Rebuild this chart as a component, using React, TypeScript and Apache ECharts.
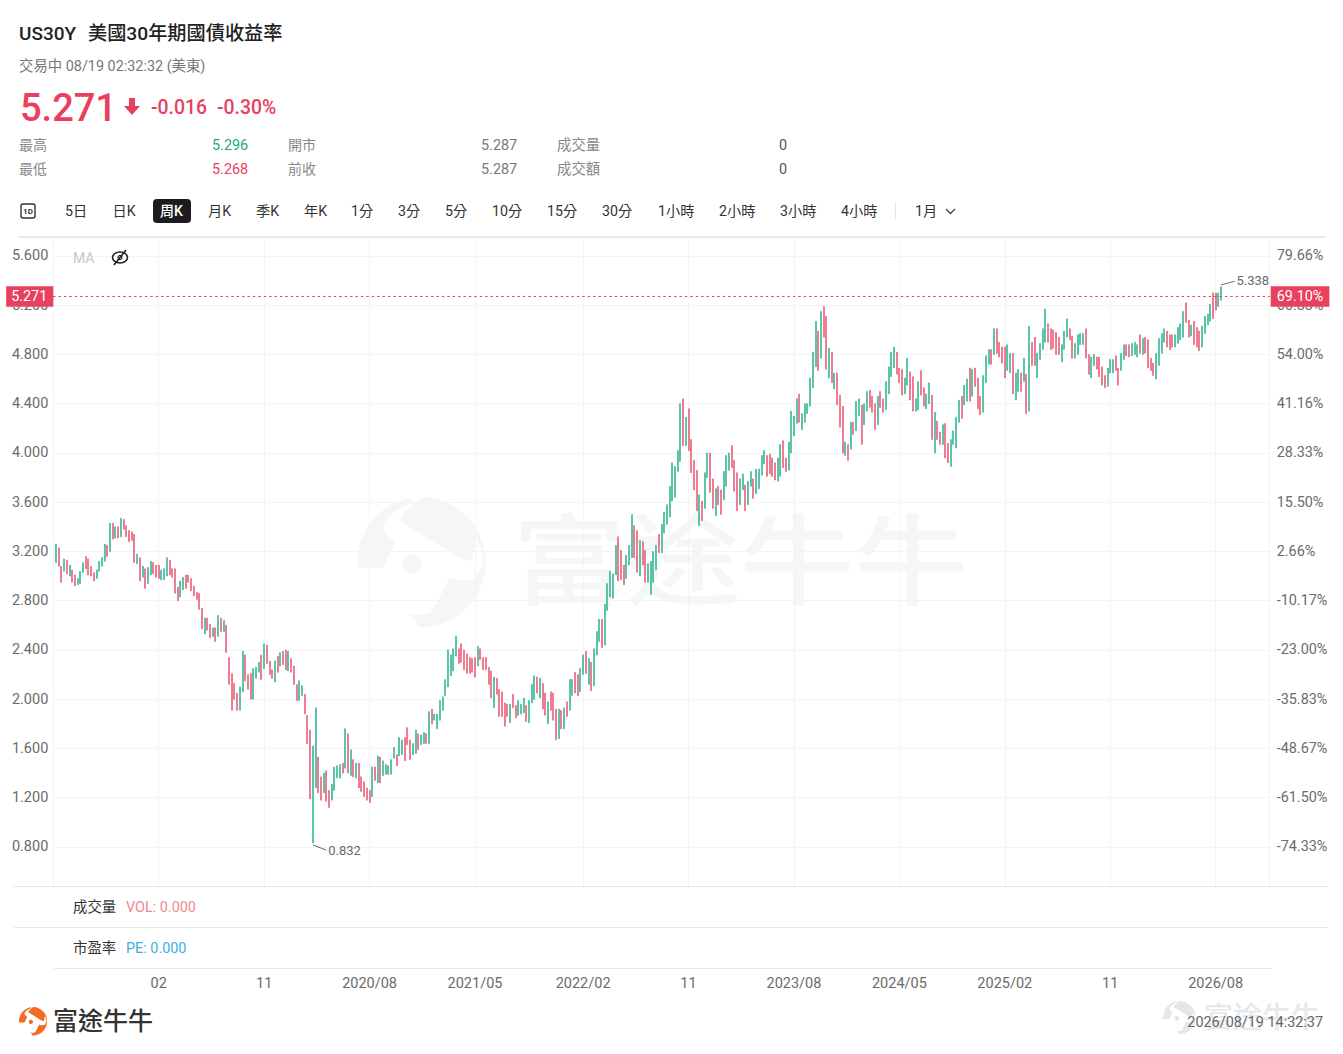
import { useEffect, useRef } from 'react';
import * as echarts from 'echarts';

const FONT = 'Roboto, "Noto Sans CJK TC", sans-serif';
const UP = '#27b28c';
const DOWN = '#e8526f';
const RED = '#e8405f';
const GRID_LINE = '#f3f4f6';
const LABEL = '#6b6b6b';

// weekly bars, 2018-05-14 to 2026-08-17
const highs = [
  3.26, 3.23, 3.08, 3.14, 3.13, 3.09, 3.05, 3.01, 2.98, 3.04,
  3.11, 3.16, 3.14, 3.08, 3.03, 3.05, 3.12, 3.15, 3.26, 3.25,
  3.43, 3.43, 3.40, 3.40, 3.47, 3.46, 3.41, 3.37, 3.36, 3.34,
  3.18, 3.15, 3.08, 3.06, 3.07, 3.12, 3.11, 3.09, 3.09, 3.05,
  3.06, 3.15, 3.13, 3.06, 3.06, 2.91, 2.96, 2.99, 3.01, 3.01,
  2.98, 2.92, 2.87, 2.86, 2.74, 2.66, 2.66, 2.61, 2.58, 2.58,
  2.68, 2.66, 2.64, 2.60, 2.34, 2.21, 2.13, 2.05, 2.10, 2.39,
  2.36, 2.20, 2.21, 2.25, 2.26, 2.30, 2.36, 2.45, 2.44, 2.31,
  2.24, 2.31, 2.35, 2.38, 2.39, 2.40, 2.39, 2.33, 2.27, 2.12,
  2.15, 2.11, 2.04, 1.87, 1.75, 1.62, 1.93, 1.53, 1.37, 1.40,
  1.42, 1.26, 1.31, 1.45, 1.46, 1.47, 1.48, 1.76, 1.72, 1.59,
  1.51, 1.48, 1.48, 1.37, 1.33, 1.28, 1.26, 1.45, 1.45, 1.54,
  1.53, 1.50, 1.47, 1.46, 1.51, 1.61, 1.55, 1.69, 1.67, 1.69,
  1.77, 1.67, 1.64, 1.75, 1.72, 1.71, 1.73, 1.72, 1.90, 1.92,
  1.88, 1.88, 1.99, 2.02, 2.16, 2.40, 2.36, 2.41, 2.51, 2.41,
  2.45, 2.40, 2.37, 2.34, 2.33, 2.34, 2.43, 2.41, 2.34, 2.34,
  2.26, 2.23, 2.18, 2.17, 2.08, 2.06, 1.97, 1.96, 1.96, 2.04,
  1.95, 1.99, 1.96, 2.01, 1.95, 1.99, 2.12, 2.19, 2.18, 2.17,
  2.13, 2.05, 1.98, 2.06, 2.05, 1.92, 1.92, 1.91, 1.93, 1.98,
  2.16, 2.16, 2.22, 2.20, 2.25, 2.36, 2.39, 2.33, 2.30, 2.41,
  2.55, 2.65, 2.65, 2.77, 2.94, 3.04, 3.02, 3.25, 3.32, 3.21,
  3.09, 3.17, 3.25, 3.50, 3.41, 3.37, 3.29, 3.28, 3.21, 3.10,
  3.12, 3.20, 3.25, 3.34, 3.42, 3.52, 3.58, 3.73, 3.92, 3.89,
  4.02, 4.40, 4.44, 4.29, 4.36, 4.11, 3.94, 3.86, 3.66, 3.61,
  3.84, 4.00, 4.00, 3.79, 3.71, 3.73, 3.70, 3.85, 3.98, 4.00,
  4.06, 3.94, 3.84, 3.79, 3.83, 3.74, 3.77, 3.85, 3.79, 3.87,
  3.87, 3.98, 4.02, 3.98, 3.99, 3.96, 3.92, 3.96, 4.07, 4.10,
  3.96, 4.09, 4.34, 4.30, 4.44, 4.48, 4.32, 4.40, 4.40, 4.61,
  4.82, 5.07, 4.99, 5.15, 5.19, 5.11, 4.85, 4.82, 4.65, 4.65,
  4.47, 4.38, 4.09, 4.07, 4.25, 4.25, 4.42, 4.44, 4.39, 4.40,
  4.50, 4.51, 4.46, 4.40, 4.46, 4.50, 4.44, 4.58, 4.70, 4.82,
  4.86, 4.82, 4.69, 4.68, 4.61, 4.77, 4.66, 4.62, 4.44, 4.58,
  4.67, 4.53, 4.48, 4.57, 4.47, 4.33, 4.26, 4.17, 4.23, 4.24,
  4.08, 4.11, 4.18, 4.29, 4.43, 4.46, 4.55, 4.60, 4.69, 4.68,
  4.69, 4.61, 4.46, 4.63, 4.79, 4.84, 4.84, 5.01, 5.01, 4.90,
  4.86, 4.86, 4.88, 4.81, 4.81, 4.65, 4.68, 4.65, 4.77, 4.64,
  5.03, 4.90, 4.94, 4.81, 4.89, 5.01, 5.17, 5.05, 5.01, 5.00,
  4.98, 4.94, 4.88, 4.99, 5.09, 5.01, 4.95, 4.89, 4.96, 4.97,
  4.97, 5.01, 4.80, 4.78, 4.80, 4.78, 4.78, 4.70, 4.63, 4.69,
  4.76, 4.76, 4.79, 4.69, 4.81, 4.88, 4.88, 4.88, 4.89, 4.90,
  4.88, 4.96, 4.93, 4.94, 4.92, 4.77, 4.73, 4.81, 4.93, 4.97,
  5.01, 4.99, 4.96, 4.96, 4.96, 5.02, 5.05, 5.15, 5.22, 5.08,
  5.04, 5.07, 5.02, 4.99, 5.03, 5.11, 5.13, 5.21, 5.30, 5.30,
  5.30, 5.35,
];

const lows = [
  3.11, 3.08, 2.95, 3.04, 3.02, 3.00, 2.95, 2.92, 2.93, 2.94,
  3.03, 3.06, 3.01, 3.00, 2.96, 2.98, 3.04, 3.08, 3.12, 3.16,
  3.20, 3.30, 3.31, 3.31, 3.32, 3.38, 3.32, 3.28, 3.29, 3.11,
  3.10, 2.96, 2.99, 2.90, 2.94, 3.01, 3.02, 2.99, 2.98, 2.97,
  2.97, 3.00, 3.01, 2.99, 2.86, 2.80, 2.83, 2.89, 2.90, 2.95,
  2.88, 2.84, 2.81, 2.73, 2.57, 2.53, 2.56, 2.50, 2.51, 2.47,
  2.51, 2.55, 2.55, 2.38, 2.12, 1.91, 2.00, 1.91, 1.91, 2.06,
  2.15, 2.08, 2.00, 2.00, 2.17, 2.22, 2.16, 2.25, 2.29, 2.20,
  2.17, 2.14, 2.22, 2.27, 2.28, 2.24, 2.23, 2.22, 2.12, 1.99,
  1.99, 2.03, 1.88, 1.64, 1.19, 0.832, 1.28, 1.24, 1.18, 1.24,
  1.17, 1.12, 1.18, 1.26, 1.36, 1.36, 1.40, 1.44, 1.40, 1.38,
  1.37, 1.36, 1.28, 1.25, 1.21, 1.18, 1.16, 1.21, 1.34, 1.32,
  1.32, 1.38, 1.39, 1.39, 1.39, 1.52, 1.46, 1.54, 1.55, 1.50,
  1.63, 1.51, 1.55, 1.56, 1.59, 1.63, 1.64, 1.64, 1.64, 1.80,
  1.83, 1.76, 1.83, 1.91, 2.03, 2.10, 2.19, 2.23, 2.35, 2.29,
  2.30, 2.24, 2.21, 2.21, 2.22, 2.18, 2.27, 2.32, 2.24, 2.24,
  2.12, 2.01, 1.93, 2.04, 1.86, 1.86, 1.78, 1.86, 1.81, 1.93,
  1.85, 1.87, 1.88, 1.89, 1.82, 1.81, 1.97, 2.00, 2.05, 2.01,
  1.92, 1.87, 1.80, 1.91, 1.83, 1.67, 1.68, 1.76, 1.76, 1.86,
  1.91, 2.03, 2.05, 2.03, 2.06, 2.20, 2.21, 2.12, 2.07, 2.11,
  2.36, 2.47, 2.42, 2.44, 2.72, 2.83, 2.82, 3.01, 2.96, 2.97,
  2.93, 2.98, 3.09, 3.15, 3.15, 3.03, 3.00, 3.09, 2.95, 2.95,
  2.85, 2.95, 3.05, 3.19, 3.19, 3.35, 3.42, 3.48, 3.61, 3.64,
  3.85, 3.93, 4.06, 4.06, 4.02, 3.84, 3.70, 3.53, 3.41, 3.45,
  3.55, 3.80, 3.68, 3.55, 3.49, 3.58, 3.50, 3.62, 3.73, 3.86,
  3.88, 3.69, 3.53, 3.58, 3.70, 3.53, 3.58, 3.73, 3.63, 3.67,
  3.71, 3.82, 3.91, 3.81, 3.83, 3.81, 3.78, 3.77, 3.81, 3.88,
  3.85, 3.86, 4.00, 4.14, 4.24, 4.25, 4.19, 4.25, 4.32, 4.38,
  4.53, 4.70, 4.67, 4.77, 4.94, 4.68, 4.61, 4.57, 4.52, 4.39,
  4.21, 4.00, 3.98, 3.94, 4.03, 4.15, 4.18, 4.30, 4.07, 4.23,
  4.34, 4.37, 4.33, 4.19, 4.23, 4.37, 4.33, 4.35, 4.48, 4.62,
  4.69, 4.64, 4.57, 4.47, 4.48, 4.55, 4.43, 4.34, 4.34, 4.35,
  4.47, 4.38, 4.36, 4.40, 4.11, 4.00, 4.11, 4.07, 4.07, 3.96,
  3.92, 3.89, 4.07, 4.04, 4.25, 4.28, 4.39, 4.42, 4.42, 4.46,
  4.54, 4.36, 4.31, 4.33, 4.57, 4.72, 4.72, 4.80, 4.81, 4.78,
  4.73, 4.61, 4.67, 4.65, 4.48, 4.43, 4.50, 4.50, 4.58, 4.32,
  4.34, 4.71, 4.71, 4.61, 4.76, 4.84, 4.90, 4.90, 4.84, 4.85,
  4.80, 4.80, 4.74, 4.84, 4.94, 4.92, 4.77, 4.77, 4.80, 4.88,
  4.88, 4.77, 4.64, 4.61, 4.71, 4.68, 4.62, 4.55, 4.53, 4.54,
  4.65, 4.65, 4.67, 4.55, 4.67, 4.76, 4.79, 4.78, 4.79, 4.80,
  4.78, 4.81, 4.80, 4.81, 4.69, 4.67, 4.63, 4.60, 4.71, 4.81,
  4.90, 4.86, 4.84, 4.86, 4.86, 4.89, 4.92, 4.94, 5.06, 4.94,
  4.95, 4.88, 4.86, 4.83, 4.86, 4.97, 5.04, 5.07, 5.09, 5.16,
  5.19, 5.24,
];

// G = closed up, R = closed down
const directions = (
  'GRRGRGRRGG' + 'GRRRRGGGGR' + 'GRGRGRRRRR' + 'GRGRGGRRRG' + 'GGRRRRGGRR' +
  'RRRRRGRRGR' + 'GRGRRRRRGG' + 'RRRGGGRGRR' + 'RGRGRRGRRR' + 'GGRRRGGRRG' +
  'RRGGGGRGRG' + 'RGRRRRRGRG' + 'RGGGGGRGGR' + 'RRGGRGGRGR' + 'GGGGGGGGGR' +
  'RRRRRRGRRR' + 'RRGRRRRRGR' + 'RGGGRGGGRG' + 'RRGRRRGRGR' + 'GGRRGGRGRG' +
  'GGRGGGGGRR' + 'RGGGRRGRRG' + 'GGGRGGGGGG' + 'GGRGRRRRGR' + 'GGRRGRRGGG' +
  'RRRGGRGGRG' + 'GGGRRRRGGR' + 'RGGGGRGGGG' + 'GGRGRRGRGR' + 'RRGRGRGGRG' +
  'GRRRGRRGGG' + 'GRRRGGRRGG' + 'RRGGRGRRGR' + 'RGGGGRGGRG' + 'RRRGGGRGRR' +
  'RRGGRGGRGR' + 'GRRGGGGRRR' + 'RRGGGRRGGG' + 'GRRGGRRRRG' + 'GGRRGGRRGG' +
  'GRGRRRRGGG' + 'GRRRGGGGRR' + 'GRRRGGGGRR' + 'GG'
).split('');

const yTicks = [5.6, 5.2, 4.8, 4.4, 4.0, 3.6, 3.2, 2.8, 2.4, 2.0, 1.6, 1.2, 0.8];
const pctLabels = [
  '79.66%', '66.83%', '54.00%', '41.16%', '28.33%', '15.50%', '2.66%',
  '-10.17%', '-23.00%', '-35.83%', '-48.67%', '-61.50%', '-74.33%',
];
const tickDates = [
  '2019-02-04', '2019-11-04', '2020-08-03', '2021-05-03', '2022-02-07', '2022-11-07',
  '2023-08-07', '2024-05-06', '2025-02-03', '2025-11-03', '2026-08-03',
];
const tickLabels = ['02', '11', '2020/08', '2021/05', '2022/02', '11', '2023/08', '2024/05', '2025/02', '11', '2026/08'];

const lastPrice = 5.271;
const lastPct = '69.10%';
const lowLabel = '0.832';
const highLabel = '5.338';

const tabs: [string, number][] = [
  ['5日', 65], ['日K', 112.5], ['月K', 208], ['季K', 256], ['年K', 304], ['1分', 351], ['3分', 398], ['5分', 445],
  ['10分', 492], ['15分', 547], ['30分', 602], ['1小時', 658], ['2小時', 719], ['3小時', 780], ['4小時', 841], ['1月', 915],
];

// one blank week in front, 18 blank weeks after the last bar
const LEAD = 1;
const TRAIL = 18;

const categories = Array.from({ length: LEAD + highs.length + TRAIL }, (_, i) =>
  new Date(Date.UTC(2018, 4, 7 + i * 7)).toISOString().slice(0, 10),
);

const candles: any[] = [
  ...Array(LEAD).fill('-'),
  ...highs.map((h, i) => (directions[i] === 'G' ? [lows[i], h, lows[i], h] : [h, lows[i], lows[i], h])),
];

const lowIndex = LEAD + lows.indexOf(Math.min(...lows));
const lastIndex = LEAD + highs.length - 1;

const logoPath =
  'M358 568 A65 65 0 0 1 410 498 L414 502 Q392 510 385 522 Q381 530 388 536 L395 543 L383 568 Z ' +
  'M423 497 A65 65 0 0 1 418 627 L416 620 L408 613 Q414 616 420 615 Q429 615 433 610 L450 577 Q455 581 460 580 Q470 581 475 578 Q482 570 483 560 Q482 548 476 538 L473 555 Q471 561 467 561 L458 557 L402 522 Q399 518 403 514 L416 502 Z ' +
  'M412 555 A9.5 9.5 0 1 1 411.9 555 Z';
echarts.graphic.registerShape('futuLogo', echarts.graphic.extendPath(logoPath as any, {}));

const text = (value: string, x: number, y: number, size: number, fill: string, extra: any = {}) => ({
  type: 'text',
  x,
  y,
  scaleY: extra.scaleY ?? 1,
  silent: true,
  z: extra.z ?? 10,
  style: {
    text: value,
    fontFamily: FONT,
    fontSize: size,
    fontWeight: extra.fontWeight ?? 400,
    fill,
    textVerticalAlign: 'middle',
    textAlign: extra.align ?? 'left',
  },
});

const hline = (x1: number, x2: number, y: number, stroke: string, lineWidth = 1) => ({
  type: 'line',
  silent: true,
  z: 10,
  shape: { x1, y1: y, x2, y2: y },
  style: { stroke, lineWidth },
});

const graphics: any[] = [
  // watermarks
  { type: 'futuLogo', x: 0, y: 0, z: -1, silent: true, style: { fill: '#f5f6f8' } },
  text('富途牛牛', 512, 563, 114, '#f5f6f8', { z: -1, fontWeight: 500, scaleY: 0.87 }),
  { type: 'futuLogo', x: 1163 - 358 * 0.255, y: 1001 - 497 * 0.255, scaleX: 0.255, scaleY: 0.255, silent: true, z: 1, style: { fill: '#e3e7ea' } },
  text('富途牛牛', 1204, 1018, 29, '#e6e9ec', { z: 1, fontWeight: 500 }),

  // header
  text('US30Y', 19, 33, 19, '#222222', { fontWeight: 500 }),
  text('美國30年期國債收益率', 88, 33, 19.2, '#222222', { fontWeight: 500 }),
  text('交易中 08/19 02:32:32 (美東)', 19, 66, 14.4, '#777777'),
  text('5.271', 20, 108, 38, RED, { fontWeight: 500 }),
  { type: 'polygon', silent: true, z: 10, shape: { points: [[129, 98], [135, 98], [135, 106], [140, 106], [132, 115], [124, 106], [129, 106]] }, style: { fill: RED } },
  text('-0.016', 151, 107, 19.4, RED, { fontWeight: 500 }),
  text('-0.30%', 217, 107, 19.4, RED, { fontWeight: 500 }),
  text('最高', 19, 145, 14, '#888888'),
  text('5.296', 212, 145, 14.4, '#1fa97b'),
  text('開市', 288, 145, 14, '#888888'),
  text('5.287', 481, 145, 14.4, '#777777'),
  text('成交量', 557, 145, 14.4, '#888888'),
  text('0', 779, 145, 14.4, '#555555'),
  text('最低', 19, 169, 14, '#888888'),
  text('5.268', 212, 169, 14.4, RED),
  text('前收', 288, 169, 14, '#888888'),
  text('5.287', 481, 169, 14.4, '#777777'),
  text('成交額', 557, 169, 14.4, '#888888'),
  text('0', 779, 169, 14.4, '#555555'),

  // toolbar
  { type: 'rect', silent: true, z: 10, shape: { x: 21, y: 204, width: 14, height: 14, r: 2 }, style: { fill: '#fff', stroke: '#333', lineWidth: 1.4 } },
  text('1D', 28, 211.5, 8, '#333333', { align: 'center', fontWeight: 700 }),
  { type: 'rect', silent: true, z: 10, shape: { x: 153, y: 199, width: 38, height: 24, r: 4 }, style: { fill: '#1c1c1e' } },
  text('周K', 160, 211, 14, '#ffffff', { fontWeight: 500 }),
  ...tabs.map(([name, x]) => text(name, x, 211, 14.2, '#333333')),
  { type: 'line', silent: true, z: 10, shape: { x1: 895.5, y1: 202, x2: 895.5, y2: 220 }, style: { stroke: '#e4e5e7', lineWidth: 1 } },
  { type: 'polyline', silent: true, z: 10, shape: { points: [[946, 209], [950.5, 213.5], [955, 209]] }, style: { stroke: '#444', lineWidth: 1.3, fill: 'none' } },

  // chart frame and lower panes
  hline(19, 1325, 237, '#e9eaec', 2),
  hline(14, 1328, 886.5, '#e6e7e9'),
  hline(14, 1328, 927.5, '#e6e7e9'),
  hline(54, 1271, 968.5, '#e6e7e9'),

  // MA legend
  text('MA', 73, 258, 14, '#c4c6c8'),
  { type: 'ellipse', silent: true, z: 10, shape: { cx: 120, cy: 257.5, rx: 7.5, ry: 5.5 }, style: { fill: 'none', stroke: '#222', lineWidth: 1.6 } },
  { type: 'circle', silent: true, z: 10, shape: { cx: 120, cy: 257.5, r: 2 }, style: { fill: 'none', stroke: '#222', lineWidth: 1.2 } },
  { type: 'line', silent: true, z: 10, shape: { x1: 114, y1: 265, x2: 126, y2: 250 }, style: { stroke: '#222', lineWidth: 1.6 } },

  // volume / PE panes
  text('成交量', 73, 907, 14.4, '#333333'),
  text('VOL: 0.000', 126, 907, 14.4, '#ee8a8f'),
  text('市盈率', 73, 948, 14.4, '#333333'),
  text('PE: 0.000', 126, 948, 14.4, '#3db0e0'),

  // footer
  { type: 'futuLogo', x: 19 - 358 * 0.22, y: 1007 - 497 * 0.22, scaleX: 0.22, scaleY: 0.22, silent: true, z: 10, style: { fill: '#f26c22' } },
  text('富途牛牛', 53, 1021, 25, '#333333', { fontWeight: 500 }),
  text('2026/08/19 14:32:37', 1323, 1022, 14.4, '#666666', { align: 'right' }),
];

const calloutStyle = { color: '#6a6a6a', width: 1, type: 'solid' as const };
const calloutLabel = { show: true, position: 'end' as const, distance: 2, color: '#6a6a6a', fontFamily: FONT, fontSize: 13 };

const priceTag = (formatter: string, position: 'start' | 'end') => ({
  yAxis: lastPrice,
  label: {
    show: true,
    position,
    formatter,
    distance: position === 'end' ? 1 : 0,
    color: '#ffffff',
    backgroundColor: RED,
    padding: position === 'end' ? [3, 6, 3, 6] : [3, 6, 3, 5],
    fontFamily: FONT,
    fontSize: 14.4,
  },
});

export default function App() {
  const elRef = useRef<HTMLDivElement | null>(null);

  useEffect(() => {
    if (!elRef.current) return;
    const chart = echarts.init(elRef.current, null, { renderer: 'svg' });
    const isTick = (_: number, value: string) => tickDates.includes(value);
    chart.setOption({
      animation: false,
      backgroundColor: '#ffffff',
      textStyle: { fontFamily: FONT },
      grid: { left: 53.3, top: 237, width: 1216.4, height: 649, containLabel: false },
      xAxis: {
        type: 'category',
        data: categories,
        boundaryGap: false,
        axisLine: { show: false },
        axisTick: { show: false },
        axisLabel: {
          interval: isTick,
          margin: 90,
          color: LABEL,
          fontSize: 14.5,
          fontFamily: FONT,
          hideOverlap: false,
          formatter: (value: string) => tickLabels[tickDates.indexOf(value)] ?? '',
        },
        splitLine: { show: true, interval: isTick, lineStyle: { color: GRID_LINE } },
      },
      yAxis: [
        {
          type: 'value',
          position: 'left',
          min: 0.4832,
          max: 5.7543,
          scale: true,
          axisLine: { show: true, lineStyle: { color: GRID_LINE } },
          axisTick: { show: false, customValues: yTicks },
          axisLabel: {
            customValues: yTicks,
            margin: 5,
            color: LABEL,
            fontSize: 14.5,
            fontFamily: FONT,
            formatter: (v: number) => v.toFixed(3),
          },
          splitLine: { show: true, lineStyle: { color: GRID_LINE } },
        },
        {
          type: 'value',
          position: 'right',
          min: 0.4832,
          max: 5.7543,
          scale: true,
          axisLine: { show: true, lineStyle: { color: GRID_LINE } },
          axisTick: { show: false, customValues: yTicks },
          axisLabel: {
            customValues: yTicks,
            margin: 7,
            color: LABEL,
            fontSize: 14.4,
            fontFamily: FONT,
            formatter: (v: number) => pctLabels[yTicks.findIndex((t) => Math.abs(t - v) < 0.001)] ?? '',
          },
          splitLine: { show: false },
        },
      ],
      graphic: graphics,
      series: [
        {
          type: 'candlestick',
          data: candles,
          barWidth: 1.5,
          clip: false,
          itemStyle: { color: UP, color0: DOWN, borderColor: UP, borderColor0: DOWN, borderWidth: 0.5 },
          markLine: {
            silent: true,
            symbol: 'none',
            animation: false,
            precision: 3,
            lineStyle: { color: RED, type: [2, 3.4], width: 1 },
            data: [
              priceTag(String(lastPrice.toFixed(3)), 'start'),
              priceTag(lastPct, 'end'),
              [
                { coord: [lowIndex, 0.816], lineStyle: calloutStyle, label: { ...calloutLabel, formatter: lowLabel } },
                { coord: [lowIndex + 5, 0.775] },
              ],
              [
                { coord: [lastIndex, 5.365], lineStyle: calloutStyle, label: { ...calloutLabel, formatter: highLabel } },
                { coord: [lastIndex + 5, 5.395] },
              ],
            ],
          },
        },
      ],
    });
    return () => chart.dispose();
  }, []);

  return <div ref={elRef} style={{ position: 'absolute', left: 0, top: 0, width: 1343, height: 1054 }} />;
}
